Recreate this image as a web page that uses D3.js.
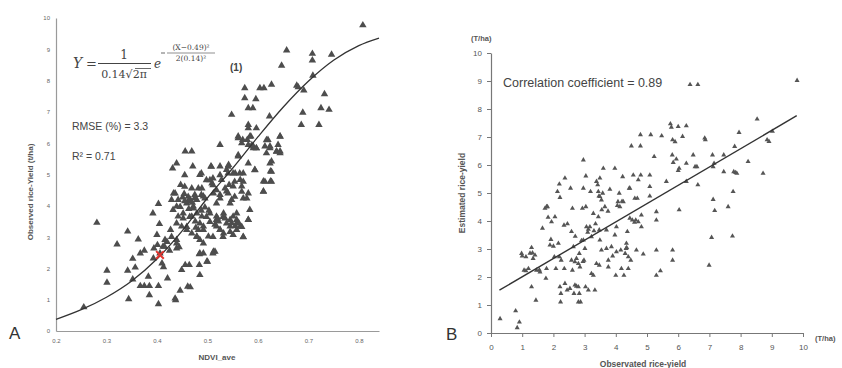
<!DOCTYPE html>
<html>
<head>
<meta charset="utf-8">
<script src="https://cdn.jsdelivr.net/npm/d3@7"></script>
<style>
  body { margin: 0; background: #fff; }
  text { font-family: "Liberation Sans", Arial, sans-serif; }
  text.serif { font-family: "DejaVu Serif", "Liberation Serif", serif; }
</style>
</head>
<body>
<div id="area"></div>
<script>
// Painel A: NDVI_ave x produtividade observada
const ndviA = [0.255,0.281,0.301,0.301,0.321,0.342,0.342,0.344,0.352,0.357,0.363,0.352,0.367,0.375,0.367,0.375,0.385,0.383,0.385,0.392,
  0.394,0.393,0.403,0.400,0.401,0.405,0.406,0.410,0.413,0.403,0.403,0.412,0.416,0.421,0.425,0.427,0.429,0.433,0.436,0.437,
  0.439,0.439,0.444,0.446,0.439,0.442,0.449,0.452,0.454,0.451,0.456,0.469,0.439,0.431,0.447,0.449,0.456,0.464,0.466,0.461,
  0.471,0.462,0.466,0.472,0.479,0.469,0.476,0.459,0.469,0.479,0.482,0.485,0.489,0.492,0.485,0.489,0.492,0.484,0.485,0.484,
  0.499,0.500,0.502,0.505,0.507,0.509,0.512,0.515,0.512,0.525,0.525,0.528,0.525,0.518,0.518,0.522,0.525,0.518,0.532,0.532,
  0.535,0.538,0.542,0.543,0.538,0.545,0.545,0.545,0.551,0.548,0.551,0.555,0.558,0.558,0.565,0.565,0.568,0.571,0.571,0.561,
  0.561,0.570,0.581,0.581,0.581,0.581,0.571,0.574,0.574,0.581,0.590,0.581,0.581,0.586,0.579,0.591,0.591,0.597,0.597,0.596,
  0.594,0.604,0.612,0.623,0.627,0.614,0.617,0.620,0.624,0.627,0.625,0.625,0.611,0.611,0.637,0.644,0.640,0.644,0.647,0.657,
  0.677,0.680,0.691,0.686,0.689,0.708,0.708,0.709,0.721,0.725,0.732,0.741,0.746,0.808,
  0.508,0.541,0.561,0.568,0.584,0.588,0.597,0.617,0.624,0.644,0.637,0.644,0.561,0.594,0.624,0.627,0.614,0.627,0.611,
  0.455,0.488,0.498,0.511,0.525,0.541,0.551,0.564,0.571,0.554,0.436,0.442,0.455,0.462,0.469,0.475,0.482,
  0.488,0.495,0.505,0.511,0.518,0.525,0.535,0.541,0.548,0.554,0.568,0.578,0.584,
  0.432,0.446,0.459,0.472,0.479,0.465,0.452,0.439,0.459,0.485,0.492,0.479,0.498,0.505,0.518,0.531,0.538,0.525,0.545,0.558,
  0.558,0.568,0.581,0.571,0.551,0.531,0.511,0.492,0.439,0.429,0.485,0.492,0.511,
  0.415,0.420,0.463,0.470,0.477,0.495,0.503,0.515,0.520,0.548,0.555,0.562,0.455,0.475,0.488];
const yieldA = [0.76,3.46,1.93,1.55,2.77,3.18,1.93,1.02,2.31,2.03,2.93,1.65,2.48,2.57,1.44,1.44,1.44,1.74,1.15,3.76,
  2.64,2.32,4.06,3.07,2.75,3.42,2.48,2.16,2.04,1.44,0.86,2.70,2.91,1.68,2.57,3.23,4.19,4.40,1.04,0.99,
  2.91,2.64,2.68,1.29,3.98,3.66,3.34,3.76,4.38,4.27,5.74,5.74,5.36,5.20,4.67,1.95,2.11,2.11,1.40,1.42,
  5.26,4.14,4.19,3.98,4.19,3.66,3.50,3.23,3.12,3.02,3.23,2.91,3.66,3.34,4.99,4.56,4.30,2.11,1.79,2.46,
  2.22,2.22,3.02,3.76,5.26,4.72,4.40,2.54,2.54,5.95,5.26,4.83,4.35,4.08,3.66,3.50,3.23,3.34,3.12,3.76,
  3.60,5.15,5.31,4.67,4.46,4.08,3.55,3.34,3.66,6.91,4.62,5.04,3.76,3.44,3.34,4.83,4.62,4.24,5.04,5.58,
  6.22,6.11,5.95,5.36,4.40,3.55,3.00,7.76,7.44,7.12,7.12,6.59,6.48,6.22,6.11,5.90,5.84,5.84,6.48,7.41,
  5.15,7.76,7.76,6.86,7.87,5.90,5.68,6.11,5.90,5.42,5.10,4.78,4.78,4.46,5.74,5.74,5.95,6.22,8.48,8.97,
  7.84,7.79,7.69,6.59,6.98,8.86,8.65,8.16,6.59,7.12,7.57,7.07,8.83,9.77,
  5.25,5.25,6.16,6.00,6.21,5.94,5.84,6.10,5.84,6.21,5.73,5.68,5.62,5.14,5.36,5.09,4.77,4.77,4.45,
  4.98,5.04,4.82,4.88,4.98,5.04,5.04,5.04,4.77,4.77,4.40,4.19,4.61,4.29,4.56,4.35,4.56,
  4.35,4.24,4.82,4.66,4.50,4.24,4.56,4.40,4.19,4.29,4.45,4.24,3.87,
  3.87,3.97,4.08,3.92,3.76,3.65,3.60,3.44,3.33,3.44,3.23,3.01,3.65,3.49,3.55,3.65,3.44,3.23,3.17,3.55,
  3.23,3.33,3.55,3.01,3.07,3.01,3.01,2.80,2.80,3.01,2.48,2.48,2.48,
  2.70,2.85,3.90,4.10,3.30,3.95,3.85,3.40,3.60,3.45,3.35,3.45,4.15,4.25,3.85];

// Curva ajustada do painel A
const curvaX = [0.20,0.25,0.30,0.35,0.40,0.45,0.50,0.55,0.60,0.65,0.70,0.75,0.80,0.84];
const curvaY = [0.37,0.68,1.08,1.60,2.30,3.20,4.25,5.20,6.20,7.15,7.98,8.65,9.12,9.36];
const destaqueA = [0.406, 2.43];
const ticksXA = [0.2,0.3,0.4,0.5,0.6,0.7,0.8];
const ticksYA = [0,1,2,3,4,5,6,7,8,9,10];

// Painel B: observado x estimado
const observadoB = [0.29,0.79,0.84,0.91,0.98,1.06,1.12,1.20,1.12,1.30,1.33,1.35,1.41,1.44,1.30,1.46,1.57,1.65,1.73,1.78,
  1.81,1.76,1.78,1.83,1.89,1.94,1.92,2.05,2.03,2.08,2.13,2.19,2.21,2.16,2.19,2.23,2.24,2.21,2.37,2.34,
  2.35,2.37,2.44,2.55,2.58,2.58,2.61,2.61,2.64,2.53,2.66,2.69,2.74,2.80,2.83,2.80,2.87,2.74,2.69,2.80,
  2.85,2.83,2.96,2.96,2.93,2.96,2.98,3.01,3.04,3.04,3.06,3.12,3.17,3.03,3.12,3.22,3.28,3.33,3.19,3.22,
  3.28,3.38,3.42,3.44,3.46,3.49,3.54,3.58,3.49,3.44,3.47,3.49,3.54,3.38,3.47,3.60,3.65,3.70,3.70,3.76,
  3.76,3.81,3.86,3.97,3.97,4.02,4.00,4.02,4.07,4.11,4.13,4.16,4.18,4.22,4.24,4.26,4.30,4.33,4.34,4.37,
  4.40,4.40,4.43,4.45,4.48,4.50,4.53,4.56,4.61,4.64,4.66,4.69,4.72,4.72,4.79,4.79,4.80,4.82,4.82,4.88,
  5.09,5.09,5.09,5.12,5.23,5.30,5.30,5.30,5.30,5.43,5.47,5.62,5.75,5.78,5.81,5.82,5.84,5.82,5.82,5.90,
  5.94,6.00,6.00,6.03,6.03,6.14,6.26,6.26,6.26,6.38,6.48,6.54,6.60,6.63,6.63,6.85,6.87,6.99,7.07,7.10,
  7.12,7.12,7.15,7.17,7.46,7.46,7.60,7.74,7.76,7.78,7.81,7.84,7.88,7.95,8.24,8.53,8.72,8.85,8.91,9.02,9.81,
  1.00,1.25,1.55,2.00,2.45,2.70,2.90,3.10,3.30,3.55,3.75,3.90,4.20,4.35,4.60,2.25,2.95,3.35,4.05,4.45];
const estimadoB = [0.51,0.79,0.19,0.39,2.84,2.24,2.22,2.30,2.72,3.05,2.86,2.66,2.78,1.17,1.65,2.24,2.18,3.74,4.45,4.51,
  4.51,1.95,2.30,4.13,3.14,3.97,3.34,4.15,2.72,2.30,5.05,5.32,4.84,3.20,2.72,1.11,1.41,1.65,5.53,3.85,
  2.30,1.77,1.53,5.17,3.62,2.60,2.24,4.45,3.08,1.59,1.41,1.71,1.67,1.65,1.41,1.11,1.11,2.66,2.54,2.48,
  2.36,2.84,6.18,5.17,4.45,3.32,2.60,3.02,5.61,4.51,3.79,3.70,3.79,1.65,1.53,2.12,2.06,1.53,5.05,3.44,
  4.27,5.41,5.29,5.05,4.89,4.87,4.75,4.99,5.53,4.15,3.68,3.32,2.96,2.48,2.42,5.88,4.51,3.68,3.02,2.36,
  2.60,5.13,3.08,5.88,3.50,3.79,2.06,2.90,4.69,4.99,4.51,2.96,2.30,5.58,4.69,2.06,2.84,3.02,3.20,3.62,
  2.72,2.30,5.17,5.17,2.60,6.68,4.03,5.64,4.81,4.03,2.96,4.81,3.97,5.47,6.68,7.08,5.64,3.79,4.21,2.82,
  5.64,5.23,4.89,7.08,6.30,4.33,4.03,2.96,2.06,2.22,7.04,5.41,7.47,7.35,6.36,6.90,6.09,2.96,2.60,6.83,
  6.21,7.37,5.80,5.88,4.40,7.02,7.40,6.06,5.41,8.87,6.36,5.94,5.94,8.87,5.29,6.96,6.90,2.42,3.41,6.36,
  4.77,5.94,6.06,4.37,6.36,5.76,4.51,3.46,5.05,5.76,6.66,5.73,5.70,7.16,6.12,7.64,5.70,6.90,6.84,7.20,9.02,
  2.75,2.85,2.25,3.10,3.90,3.45,3.30,3.60,3.65,4.40,4.35,2.75,4.70,3.05,3.95,2.60,2.55,3.90,4.55,4.10];

// Reta de regressão do painel B
const retaX = [0.27, 9.80];
const retaY = [1.53, 7.76];
const ticksB = [0,1,2,3,4,5,6,7,8,9,10];

let svg = d3.select('#area').append('svg')
    .attr('width', 842)
    .attr('height', 368)
    .style('background', '#fff');

// ---------------- Painel A ----------------
let xA = d3.scaleLinear().domain([0.2, 0.84]).range([56, 379]);
let yA = d3.scaleLinear().domain([0, 10]).range([331, 18]);

let eixoXA = svg.append('g')
    .attr('transform', 'translate(0,331)')
    .call(d3.axisBottom(xA).tickValues(ticksXA).tickSize(0).tickPadding(8).tickFormat(d3.format('.1f')));
let eixoYA = svg.append('g')
    .attr('transform', 'translate(56,0)')
    .call(d3.axisLeft(yA).tickValues(ticksYA).tickSize(0).tickPadding(6));

[eixoXA, eixoYA].forEach(function (g) {
    g.select('.domain').attr('stroke', '#9a9a9a').attr('stroke-width', 1.2);
    g.selectAll('text').attr('font-size', 6).attr('fill', '#666');
});

let linhaA = d3.line()
    .x(function (d, i) { return xA(curvaX[i]); })
    .y(function (d) { return yA(d); })
    .curve(d3.curveMonotoneX);

svg.append('g').selectAll('path')
    .data(ndviA)
    .join('path')
    .attr('d', d3.symbol(d3.symbolTriangle, 24))
    .attr('transform', function (d, i) { return `translate(${xA(d)},${yA(yieldA[i])})`; })
    .attr('fill', '#4d4d4d');

svg.append('path')
    .datum(curvaY)
    .attr('d', linhaA)
    .attr('fill', 'none')
    .attr('stroke', '#333')
    .attr('stroke-width', 1.3);

svg.append('path')
    .attr('d', d3.symbol(d3.symbolTimes, 40))
    .attr('transform', `translate(${xA(destaqueA[0])},${yA(destaqueA[1])})`)
    .attr('fill', 'none')
    .attr('stroke', '#e3342f')
    .attr('stroke-width', 2);

// Textos do painel A
svg.append('text').attr('x', 217).attr('y', 360).attr('text-anchor', 'middle')
    .attr('font-size', 8).attr('font-weight', 'bold').attr('fill', '#555').text('NDVI_ave');
svg.append('text').attr('transform', 'translate(33,192) rotate(-90)').attr('text-anchor', 'middle')
    .attr('font-size', 8).attr('font-weight', 'bold').attr('fill', '#555').text('Observed rice-Yield (t/ha)');
svg.append('text').attr('x', 9).attr('y', 339).attr('font-size', 17).attr('fill', '#333').text('A');

svg.append('text').attr('x', 72).attr('y', 130).attr('font-size', 10.5).attr('fill', '#444').text('RMSE (%) = 3.3');
svg.append('text').attr('x', 72).attr('y', 160).attr('font-size', 10.5).attr('fill', '#444').text('R² = 0.71');

// Fórmula (1)
let formula = svg.append('g').attr('fill', '#444');
formula.append('text').attr('class', 'serif').attr('x', 73).attr('y', 68).attr('font-size', 14).attr('font-style', 'italic').text('Y');
formula.append('text').attr('class', 'serif').attr('x', 86).attr('y', 68).attr('font-size', 13).text('=');
formula.append('text').attr('class', 'serif').attr('x', 124).attr('y', 59).attr('font-size', 12).attr('text-anchor', 'middle').text('1');
formula.append('line').attr('x1', 98).attr('x2', 151).attr('y1', 63.5).attr('y2', 63.5).attr('stroke', '#444').attr('stroke-width', 1);
formula.append('text').attr('class', 'serif').attr('x', 124).attr('y', 78).attr('font-size', 11).attr('text-anchor', 'middle').text('0.14√2π');
formula.append('line').attr('x1', 135).attr('x2', 151).attr('y1', 68.5).attr('y2', 68.5).attr('stroke', '#444').attr('stroke-width', 0.8);
formula.append('text').attr('class', 'serif').attr('x', 154).attr('y', 68).attr('font-size', 12).attr('font-style', 'italic').text('e');
formula.append('line').attr('x1', 161).attr('x2', 165).attr('y1', 53).attr('y2', 53).attr('stroke', '#444').attr('stroke-width', 0.8);
formula.append('text').attr('class', 'serif').attr('x', 191).attr('y', 50).attr('font-size', 7.5).attr('text-anchor', 'middle').text('(X−0.49)²');
formula.append('line').attr('x1', 167).attr('x2', 215).attr('y1', 53).attr('y2', 53).attr('stroke', '#444').attr('stroke-width', 0.6);
formula.append('text').attr('class', 'serif').attr('x', 191).attr('y', 61).attr('font-size', 7.5).attr('text-anchor', 'middle').text('2(0.14)²');
formula.append('text').attr('x', 230).attr('y', 71).attr('font-size', 10).attr('font-weight', 'bold').text('(1)');

// ---------------- Painel B ----------------
let xB = d3.scaleLinear().domain([0, 10]).range([491, 803]);
let yB = d3.scaleLinear().domain([0, 10]).range([333, 53]);

let eixoXB = svg.append('g')
    .attr('transform', 'translate(0,333)')
    .call(d3.axisBottom(xB).tickValues(ticksB).tickSize(4).tickSizeOuter(0).tickPadding(7));
let eixoYB = svg.append('g')
    .attr('transform', 'translate(491,0)')
    .call(d3.axisLeft(yB).tickValues(ticksB).tickSize(4).tickSizeOuter(0).tickPadding(5));

[eixoXB, eixoYB].forEach(function (g) {
    g.select('.domain').attr('stroke', '#777').attr('stroke-width', 1.2);
    g.selectAll('line').attr('stroke', '#777');
    g.selectAll('text').attr('font-size', 8).attr('fill', '#555');
});

let linhaB = d3.line()
    .x(function (d, i) { return xB(retaX[i]); })
    .y(function (d) { return yB(d); });

svg.append('g').selectAll('path')
    .data(observadoB)
    .join('path')
    .attr('d', d3.symbol(d3.symbolTriangle, 11))
    .attr('transform', function (d, i) { return `translate(${xB(d)},${yB(estimadoB[i])})`; })
    .attr('fill', '#555');

svg.append('path')
    .datum(retaY)
    .attr('d', linhaB)
    .attr('fill', 'none')
    .attr('stroke', '#333')
    .attr('stroke-width', 1.4);

// Textos do painel B
svg.append('text').attr('x', 503).attr('y', 87).attr('font-size', 12.5).attr('fill', '#444').text('Correlation coefficient = 0.89');
svg.append('text').attr('x', 471).attr('y', 41).attr('font-size', 7.5).attr('font-weight', 'bold').attr('fill', '#555').text('(T/ha)');
svg.append('text').attr('x', 815).attr('y', 341).attr('font-size', 7.5).attr('font-weight', 'bold').attr('fill', '#555').text('(T/ha)');
svg.append('text').attr('x', 643).attr('y', 367).attr('text-anchor', 'middle')
    .attr('font-size', 8.5).attr('font-weight', 'bold').attr('fill', '#555').text('Observated rice-yield');
svg.append('text').attr('transform', 'translate(465,193) rotate(-90)').attr('text-anchor', 'middle')
    .attr('font-size', 8.5).attr('font-weight', 'bold').attr('fill', '#555').text('Estimated rice-yield');
svg.append('text').attr('x', 446).attr('y', 340).attr('font-size', 17).attr('fill', '#333').text('B');
</script>
</body>
</html>
